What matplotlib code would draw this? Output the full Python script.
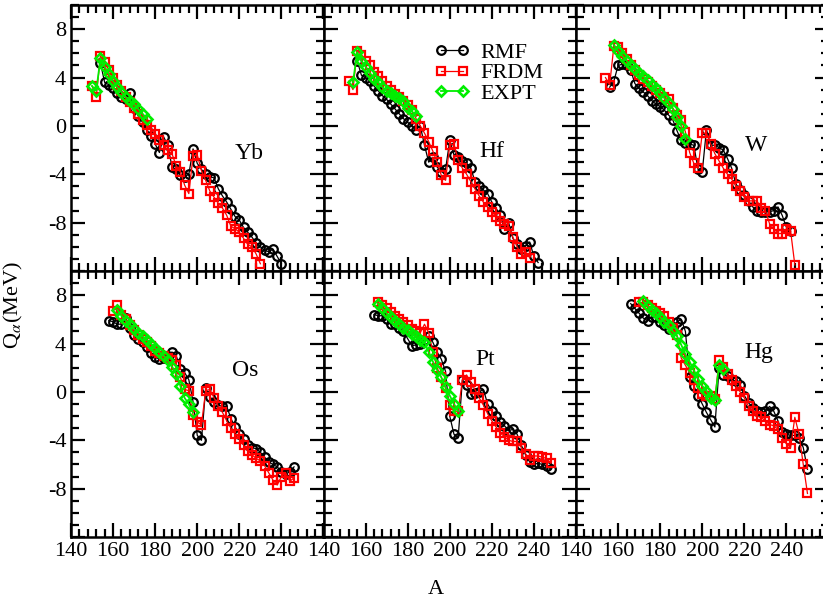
import matplotlib
matplotlib.use("Agg")
import matplotlib.pyplot as plt
from matplotlib.ticker import MultipleLocator

# (A, Q_alpha in MeV)
yb_rmf = [(154, 5.2), (156, 3.6), (158, 3.4), (160, 3.1), (162, 2.7), (164, 2.4), (166, 2.2), (168, 2.7),
          (170, 1.5), (172, 0.8), (174, 0.3), (176, -0.3), (178, -0.8), (180, -1.5), (182, -2.2), (184, -0.9),
          (186, -1.6), (188, -3.4), (190, -3.6), (192, -4.1), (194, -4.2), (196, -4.0), (198, -1.9), (200, -3.1),
          (202, -3.6), (204, -4.0), (206, -4.2), (208, -4.3), (210, -5.2), (212, -5.8), (214, -6.3), (216, -6.9),
          (218, -7.5), (220, -7.8), (222, -8.4), (224, -8.8), (226, -9.2), (228, -9.7), (230, -10.0), (232, -10.3),
          (234, -10.4), (236, -10.2), (238, -10.8), (240, -11.4)]
yb_frdm = [(150, 3.3), (152, 2.4), (154, 5.8), (156, 5.3), (158, 4.6), (160, 4.0), (162, 3.4), (164, 2.9),
           (166, 2.4), (168, 2.0), (170, 1.5), (172, 1.0), (174, 0.5), (176, 0.1), (178, -0.3), (180, -0.7),
           (182, -1.2), (184, -1.6), (186, -2.0), (188, -2.3), (190, -3.3), (192, -3.8), (194, -4.9), (196, -5.6),
           (198, -2.5), (200, -2.4), (202, -3.7), (204, -4.5), (206, -5.4), (208, -5.9), (210, -6.4), (212, -6.8),
           (214, -7.4), (216, -8.3), (218, -8.5), (220, -8.8), (222, -9.3), (224, -9.8), (226, -10.0), (228, -10.6),
           (230, -11.4)]
yb_expt = [(150, 3.3), (152, 2.9), (154, 5.6), (156, 4.9), (158, 4.3), (160, 3.7), (162, 3.2), (164, 2.8),
           (166, 2.4), (168, 2.1), (170, 1.8), (172, 1.4), (174, 1.0), (176, 0.6)]

hf_rmf = [(156, 5.4), (158, 4.2), (160, 4.0), (162, 3.7), (164, 3.3), (166, 2.9), (168, 2.5), (170, 2.2),
          (172, 1.8), (174, 1.4), (176, 1.0), (178, 0.6), (180, 0.3), (182, 0.0), (184, -0.3), (186, 0.0),
          (188, -1.6), (190, -3.0), (192, -2.6), (194, -3.4), (196, -3.8), (198, -3.6), (200, -1.2), (202, -2.4),
          (204, -2.6), (206, -2.9), (208, -3.1), (210, -3.5), (212, -4.6), (214, -5.0), (216, -5.3), (218, -5.6),
          (220, -6.3), (222, -6.8), (224, -7.4), (226, -8.5), (228, -8.0), (230, -9.3), (232, -9.8), (234, -10.2),
          (236, -9.9), (238, -9.6), (240, -10.8), (242, -11.3)]
hf_frdm = [(152, 3.7), (154, 3.0), (156, 6.2), (158, 5.9), (160, 5.4), (162, 5.0), (164, 4.5), (166, 4.1),
           (168, 3.7), (170, 3.3), (172, 3.0), (174, 2.6), (176, 2.4), (178, 2.1), (180, 1.7), (182, 1.3),
           (184, 0.6), (186, 0.0), (188, -0.6), (190, -1.3), (192, -2.1), (194, -3.0), (196, -4.1), (198, -4.5),
           (200, -1.6), (202, -1.5), (204, -2.8), (206, -3.5), (208, -4.0), (210, -4.6), (212, -5.2), (214, -5.8),
           (216, -6.3), (218, -6.7), (220, -7.1), (222, -7.5), (224, -7.9), (226, -8.1), (228, -8.3), (230, -9.2),
           (232, -10.0), (234, -10.6), (236, -10.4), (238, -10.9)]
hf_expt = [(154, 3.6), (156, 6.1), (158, 5.4), (160, 4.9), (162, 4.4), (164, 3.9), (166, 3.6), (168, 3.2),
           (170, 2.9), (172, 2.7), (174, 2.5), (176, 2.3), (178, 2.1), (180, 1.5), (182, 1.2), (184, 0.8)]

w_rmf = [(156, 3.2), (158, 3.7), (160, 5.0), (162, 5.1), (164, 5.0), (166, 4.6), (168, 3.5), (170, 3.1),
         (172, 2.8), (174, 2.5), (176, 2.1), (178, 1.8), (180, 1.6), (182, 1.3), (184, 0.9), (186, 0.5),
         (188, -0.4), (190, -1.2), (192, -1.4), (194, -1.5), (196, -1.6), (198, -3.6), (200, -3.8), (202, -0.3),
         (204, -1.6), (206, -1.6), (208, -1.8), (210, -2.0), (212, -2.7), (214, -3.5), (216, -4.8), (218, -5.3),
         (220, -5.7), (222, -6.2), (224, -6.7), (226, -7.0), (228, -7.1), (230, -7.1), (232, -7.1), (234, -7.0),
         (236, -6.7), (238, -7.4), (240, -8.4), (242, -8.7)]
w_frdm = [(154, 4.0), (156, 3.4), (158, 6.6), (160, 6.5), (162, 6.0), (164, 5.5), (166, 5.0), (168, 4.6),
          (170, 4.2), (172, 3.9), (174, 3.6), (176, 3.3), (178, 3.0), (180, 2.7), (182, 2.4), (184, 2.2),
          (186, 1.5), (188, 0.9), (190, 0.5), (192, -0.5), (194, -2.2), (196, -3.1), (198, -3.5), (200, -0.6),
          (202, -0.6), (204, -1.5), (206, -2.3), (208, -2.9), (210, -3.5), (212, -4.0), (214, -4.4), (216, -5.0),
          (218, -5.4), (220, -5.9), (222, -6.2), (224, -6.2), (226, -6.2), (228, -6.8), (230, -7.0), (232, -8.1),
          (234, -8.5), (236, -8.9), (238, -8.9), (240, -8.5), (242, -8.7), (244, -11.5)]
w_expt = [(158, 6.7), (160, 6.2), (162, 5.8), (164, 5.4), (166, 5.0), (168, 4.7), (170, 4.4), (172, 4.1),
          (174, 3.8), (176, 3.4), (178, 3.1), (180, 2.7), (182, 2.3), (184, 1.9), (186, 1.4), (188, 0.7),
          (190, 0.0), (192, -1.1)]

os_rmf = [(158, 5.9), (160, 5.8), (162, 5.6), (164, 5.6), (166, 6.1), (168, 5.3), (170, 4.7), (172, 4.4),
          (174, 4.1), (176, 3.7), (178, 3.2), (180, 2.9), (182, 2.7), (184, 2.8), (186, 3.0), (188, 3.3),
          (190, 3.0), (192, 1.9), (194, 1.6), (196, 1.0), (198, -0.8), (200, -3.6), (202, -4.0), (204, 0.3),
          (206, -0.4), (208, -0.8), (210, -1.1), (212, -1.2), (214, -1.2), (216, -2.2), (218, -2.9), (220, -3.5),
          (222, -3.9), (224, -4.4), (226, -4.6), (228, -4.7), (230, -5.0), (232, -5.4), (234, -5.8), (236, -6.0),
          (238, -6.2), (240, -6.6), (242, -6.8), (244, -6.6), (246, -6.2)]
os_frdm = [(160, 6.7), (162, 7.2), (164, 6.4), (166, 6.0), (168, 5.5), (170, 5.1), (172, 4.7), (174, 4.4),
           (176, 4.1), (178, 3.8), (180, 3.4), (182, 3.2), (184, 3.0), (186, 2.8), (188, 2.6), (190, 2.2),
           (192, 1.2), (194, 0.2), (196, 0.1), (198, -1.9), (200, -2.5), (202, -2.7), (204, 0.1), (206, 0.2),
           (208, -0.5), (210, -1.2), (212, -1.7), (214, -2.4), (216, -3.0), (218, -3.5), (220, -3.9), (222, -4.4),
           (224, -4.9), (226, -5.2), (228, -5.5), (230, -5.7), (232, -6.1), (234, -6.7), (236, -7.3), (238, -7.7),
           (240, -7.0), (242, -6.7), (244, -7.4), (246, -7.1)]
os_expt = [(162, 6.8), (164, 6.3), (166, 5.9), (168, 5.6), (170, 5.2), (172, 4.9), (174, 4.6), (176, 4.3),
           (178, 4.0), (180, 3.6), (182, 3.3), (184, 3.0), (186, 2.6), (188, 2.1), (190, 1.5), (192, 0.5),
           (194, -0.5), (196, -1.0), (198, -1.7)]

pt_rmf = [(164, 6.4), (166, 6.3), (168, 6.3), (170, 6.0), (172, 5.6), (174, 5.6), (176, 5.3), (178, 5.0),
          (180, 4.4), (182, 3.8), (184, 3.9), (186, 4.0), (188, 4.3), (190, 4.6), (192, 4.1), (194, 3.3),
          (196, 2.7), (198, 1.7), (200, -2.0), (202, -3.5), (204, -3.8), (206, 1.0), (208, 0.6), (210, -0.2),
          (212, -0.1), (214, 0.0), (216, 0.2), (218, -1.0), (220, -1.6), (222, -2.0), (224, -2.5), (226, -2.8),
          (228, -3.2), (230, -3.1), (232, -3.5), (234, -4.4), (236, -5.2), (238, -5.8), (240, -6.0), (242, -5.9),
          (244, -6.0), (246, -6.1), (248, -6.4)]
pt_frdm = [(166, 7.4), (168, 7.2), (170, 6.9), (172, 6.6), (174, 6.3), (176, 6.0), (178, 5.8), (180, 5.5),
           (182, 5.2), (184, 5.0), (186, 4.9), (188, 5.6), (190, 4.9), (192, 3.3), (194, 2.0), (196, 1.2),
           (198, 0.3), (200, -1.1), (202, -1.6), (204, -1.6), (206, 1.0), (208, 1.4), (210, 0.8), (212, 0.2),
           (214, -0.5), (216, -1.1), (218, -1.8), (220, -2.4), (222, -2.9), (224, -3.4), (226, -3.7), (228, -4.0),
           (230, -4.1), (232, -4.1), (234, -4.6), (236, -5.1), (238, -5.6), (240, -5.3), (242, -5.3), (244, -5.4),
           (246, -5.5), (248, -5.9)]
pt_expt = [(166, 7.3), (168, 6.9), (170, 6.5), (172, 6.2), (174, 5.9), (176, 5.6), (178, 5.3), (180, 5.1),
           (182, 4.8), (184, 4.6), (186, 4.3), (188, 4.1), (190, 3.3), (192, 2.5), (194, 1.8), (196, 1.2),
           (198, 0.4), (200, -0.3), (202, -1.0), (204, -1.6)]

hg_rmf = [(166, 7.3), (168, 6.9), (170, 6.5), (172, 6.1), (174, 5.9), (176, 6.2), (178, 6.2), (180, 5.8),
          (182, 5.5), (184, 5.2), (186, 5.4), (188, 5.8), (190, 6.0), (192, 5.0), (194, 1.2), (196, 0.5),
          (198, -0.3), (200, -1.0), (202, -1.7), (204, -2.3), (206, -2.9), (208, 2.0), (210, 1.4), (212, 1.3),
          (214, 1.0), (216, 0.9), (218, 0.6), (220, -0.3), (222, -0.9), (224, -1.3), (226, -1.6), (228, -1.7),
          (230, -1.6), (232, -1.2), (234, -1.6), (236, -2.4), (238, -3.3), (240, -3.5), (242, -3.6), (244, -3.6),
          (246, -3.8), (248, -4.6), (250, -6.4)]
hg_frdm = [(170, 7.4), (172, 7.4), (174, 7.2), (176, 6.9), (178, 6.7), (180, 6.5), (182, 6.3), (184, 5.8),
           (186, 5.3), (188, 4.7), (190, 2.8), (192, 2.2), (194, 1.6), (196, 1.0), (198, 0.3), (200, -0.2),
           (202, -0.3), (204, -0.3), (206, -0.6), (208, 2.6), (210, 2.1), (212, 1.5), (214, 1.0), (216, 0.5),
           (218, 0.0), (220, -0.5), (222, -1.2), (224, -1.6), (226, -2.0), (228, -2.1), (230, -2.4), (232, -2.7),
           (234, -2.8), (236, -3.1), (238, -3.8), (240, -4.3), (242, -4.6), (244, -2.1), (246, -3.5), (248, -6.0),
           (250, -8.4)]
hg_expt = [(172, 7.5), (174, 7.1), (176, 6.8), (178, 6.5), (180, 6.2), (182, 5.8), (184, 5.5), (186, 5.0),
           (188, 4.6), (190, 3.9), (192, 3.1), (194, 2.5), (196, 1.8), (198, 1.1), (200, 0.5), (202, 0.1),
           (204, -0.5), (206, -0.7), (208, 2.2), (210, 1.9)]

element_names = ["Yb", "Hf", "W", "Os", "Pt", "Hg"]
rmf_sets = [yb_rmf, hf_rmf, w_rmf, os_rmf, pt_rmf, hg_rmf]
frdm_sets = [yb_frdm, hf_frdm, w_frdm, os_frdm, pt_frdm, hg_frdm]
expt_sets = [yb_expt, hf_expt, w_expt, os_expt, pt_expt, hg_expt]
name_pos = [(224.5, -2.3), (219.8, -2.1), (225.7, -1.6), (222.8, 1.8), (217.0, 2.7), (226.7, 3.3)]

plt.rcParams["font.family"] = ["Liberation Serif", "DejaVu Serif"]
plt.rcParams["mathtext.fontset"] = "stix"

W, H = 823, 603
fig = plt.figure(figsize=(W / 100, H / 100), dpi=100)

col_left = [71, 323.5, 576]
col_w = 252.5
row_top = [5, 271]
row_h = 266

GREEN = "#00ee00"
MS = 6.2
MEW = 1.6
LW = 0.9

axes = []
for i, name in enumerate(element_names):
    r, c = divmod(i, 3)
    left = col_left[c] / W
    bottom = 1 - (row_top[r] + row_h) / H
    ax = fig.add_axes([left, bottom, col_w / W, row_h / H])
    axes.append(ax)

    ra, rq = zip(*rmf_sets[i])
    fa, fq = zip(*frdm_sets[i])
    ea, eq = zip(*expt_sets[i])
    ax.plot(ra, rq, color="black", lw=LW, marker="o", ms=MS, mfc="none", mec="black", mew=MEW, label="RMF")
    ax.plot(fa, fq, color="red", lw=LW, marker="s", ms=MS, mfc="none", mec="red", mew=MEW, label="FRDM")
    ax.plot(ea, eq, color=GREEN, lw=1.3, marker="D", ms=MS * 0.85, mfc="none", mec=GREEN, mew=MEW + 0.3,
            label="EXPT")

    ax.text(name_pos[i][0], name_pos[i][1], name, fontsize=17, ha="center", va="center")

    ax.set_xlim(140, 260)
    ax.set_ylim(-12, 10)
    ax.set_xticks([140, 160, 180, 200, 220, 240, 260])
    ax.set_yticks([-12, -8, -4, 0, 4, 8])
    ax.xaxis.set_minor_locator(MultipleLocator(4))
    ax.yaxis.set_minor_locator(MultipleLocator(1))
    ax.tick_params(which="both", direction="in", top=True, right=True, width=1.6, labelsize=16)
    ax.tick_params(which="major", length=10)
    ax.tick_params(which="minor", length=5.5)
    for s in ax.spines.values():
        s.set_linewidth(1.8)

    if c == 0:
        ax.set_yticklabels(["", "-8", "-4", "0", "4", "8"])
    else:
        ax.tick_params(labelleft=False)
    if r == 1:
        ax.set_xticklabels(["140", "160", "180", "200", "220", "240", ""])
    else:
        ax.tick_params(labelbottom=False)

axes[1].legend(loc="upper left", bbox_to_anchor=(0.44, 0.86), frameon=False, fontsize=16, numpoints=2,
               handlelength=1.6, handletextpad=0.45, labelspacing=0.0, borderpad=0, borderaxespad=0)

fig.text(13 / W, 1 - 305 / H, r"Q$_\alpha$(MeV)", rotation=90, ha="center", va="center", fontsize=16)
fig.text(436 / W, 1 - 590 / H, "A", ha="center", va="center", fontsize=16)

fig.savefig("out.png", dpi=100)
